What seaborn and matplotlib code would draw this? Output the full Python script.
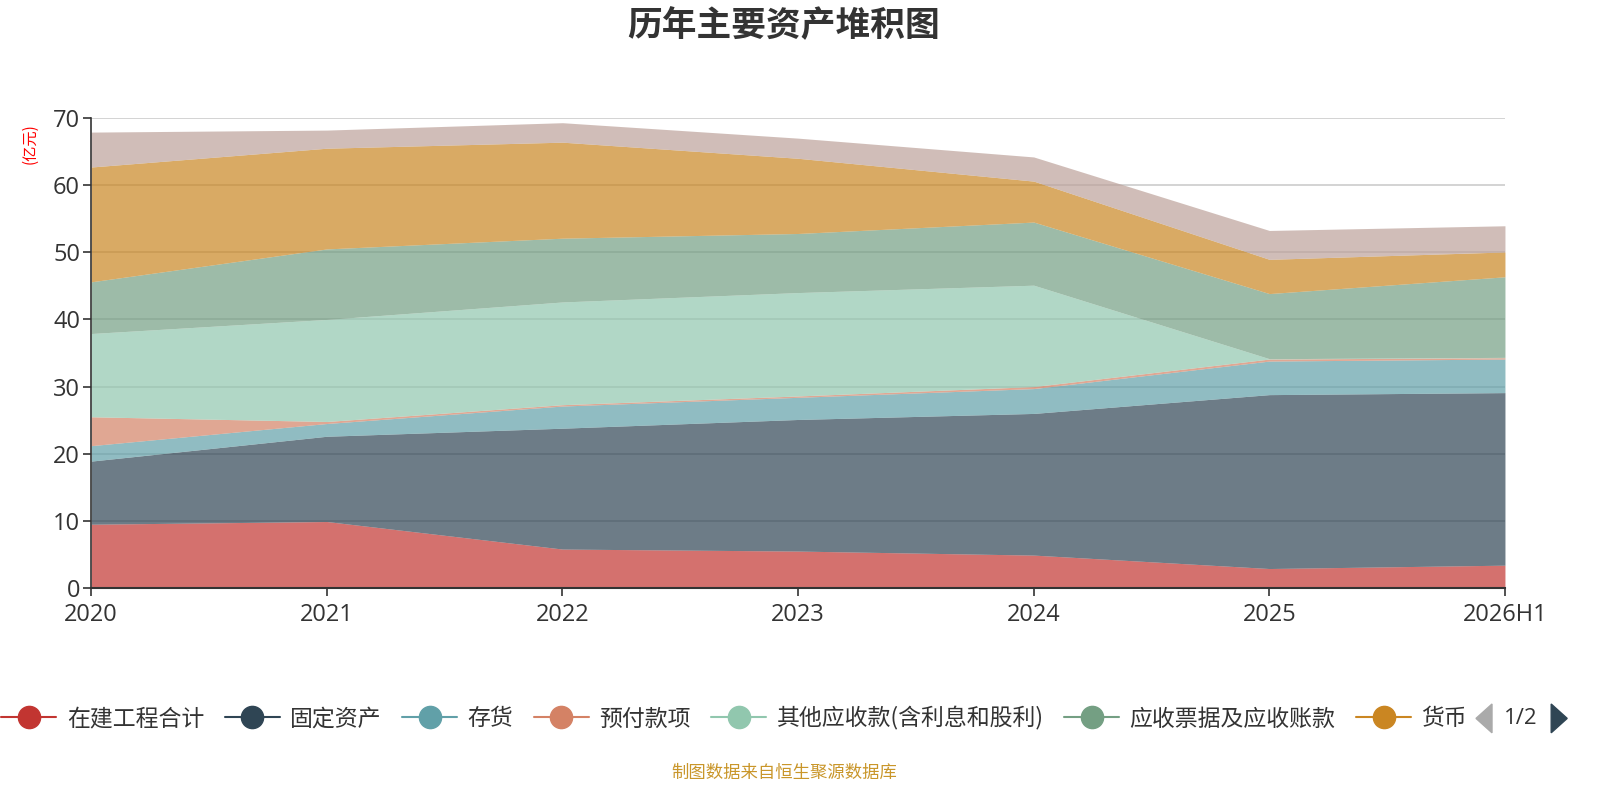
import matplotlib.pyplot as plt
import seaborn as sns
import numpy as np
import pandas as pd
from matplotlib.lines import Line2D
from matplotlib.patches import Polygon, Rectangle

years = ['2020', '2021', '2022', '2023', '2024', '2025', '2026H1']

# 单位：亿元
zaijian = [9.5, 9.9, 5.8, 5.5, 4.9, 2.9, 3.4]
guding = [9.4, 12.7, 18.0, 19.6, 21.1, 25.9, 25.7]
cunhuo = [2.3, 1.9, 3.3, 3.3, 3.7, 5.0, 5.0]
yufu = [4.3, 0.3, 0.2, 0.2, 0.3, 0.3, 0.2]
qita_ys = [12.4, 15.2, 15.3, 15.4, 15.1, 0.05, 0.05]
yingshou = [7.7, 10.5, 9.5, 8.8, 9.4, 9.7, 12.0]
huobi = [17.1, 15.0, 14.3, 11.2, 6.1, 5.1, 3.7]
# 第二页图例里的那一项，看不到名字
page2_item = [5.2, 2.7, 2.9, 3.0, 3.6, 4.3, 3.9]

names = ['在建工程合计', '固定资产', '存货', '预付款项', '其他应收款(含利息和股利)',
         '应收票据及应收账款', '货币资金', '第二页']
colors = ['#c23531', '#2f4554', '#61a0a8', '#d48265', '#91c7ae',
          '#749f83', '#ca8622', '#bda29a']

df = pd.DataFrame({n: v for n, v in zip(names, [zaijian, guding, cunhuo, yufu, qita_ys,
                                                  yingshou, huobi, page2_item])}, index=years)

sns.set_theme(style='white')
plt.rcParams['font.family'] = ['Noto Sans CJK SC', 'DejaVu Sans']
palette = sns.color_palette(colors)

fig = plt.figure(figsize=(16, 8), dpi=100)
ax = fig.add_axes([0.057, 0.265, 0.8836, 0.5875])

x = np.arange(len(years))
ax.stackplot(x, df.T.values, colors=palette, alpha=0.7, linewidth=0, zorder=2)

ax.set_xlim(0, len(years) - 1)
ax.set_ylim(0, 70)
ax.set_yticks(range(0, 71, 10))
ax.set_xticks(x)
ax.set_xticklabels(years)
ax.yaxis.grid(True, color='#cccccc', linewidth=1.2, zorder=0)
ax.set_axisbelow(True)
for s in ['top', 'right']:
    ax.spines[s].set_visible(False)
ax.spines['left'].set_color('#333333')
ax.spines['bottom'].set_color('#333333')
ax.spines['left'].set_linewidth(1.2)
ax.spines['bottom'].set_linewidth(1.5)
ax.tick_params(axis='both', labelsize=17, colors='#333333', length=6, width=1.2,
               direction='out', left=True, bottom=True)
ax.tick_params(axis='y', pad=2)
ax.tick_params(axis='x', pad=5)
for lab in ax.get_xticklabels() + ax.get_yticklabels():
    lab.set_family(['Open Sans', 'DejaVu Sans'])

fig.text(0.019, 0.82, '(亿元)', color='red', fontsize=11, rotation=90, ha='center', va='center')
fig.text(0.49, 0.968, '历年主要资产堆积图', fontsize=25, fontweight='bold', color='#333333',
         ha='center', va='center')

handles = [Line2D([0], [0], color=c, marker='o', markersize=16, linewidth=1.5)
           for c in colors[:7]]
leg = fig.legend(handles, names[:7], loc='center left', bbox_to_anchor=(-0.012, 0.102),
                 ncol=7, frameon=False, fontsize=16.5, handlelength=2.4, handletextpad=0.45,
                 columnspacing=0.9, labelcolor='#333333')
leg.set_zorder(1)

# 图例翻页（盖住放不下的图例）
fig.add_artist(Rectangle((0.915, 0.07), 0.085, 0.065, transform=fig.transFigure,
                         facecolor='white', edgecolor='none', zorder=5))
fig.add_artist(Polygon([[0.9225, 0.102], [0.9325, 0.084], [0.9325, 0.12]], closed=True,
                       transform=fig.transFigure, color='#aaaaaa', zorder=6))
fig.text(0.9505, 0.102, '1/2', fontsize=16, color='#333333', ha='center', va='center',
         zorder=6, family=['Open Sans', 'DejaVu Sans'])
fig.add_artist(Polygon([[0.9695, 0.084], [0.9795, 0.102], [0.9695, 0.12]], closed=True,
                       transform=fig.transFigure, color='#2f4554', zorder=6))

fig.text(0.49, 0.034, '制图数据来自恒生聚源数据库', fontsize=12.5, color='#c9962a',
         ha='center', va='center')

fig.savefig('out.png', dpi=100)
